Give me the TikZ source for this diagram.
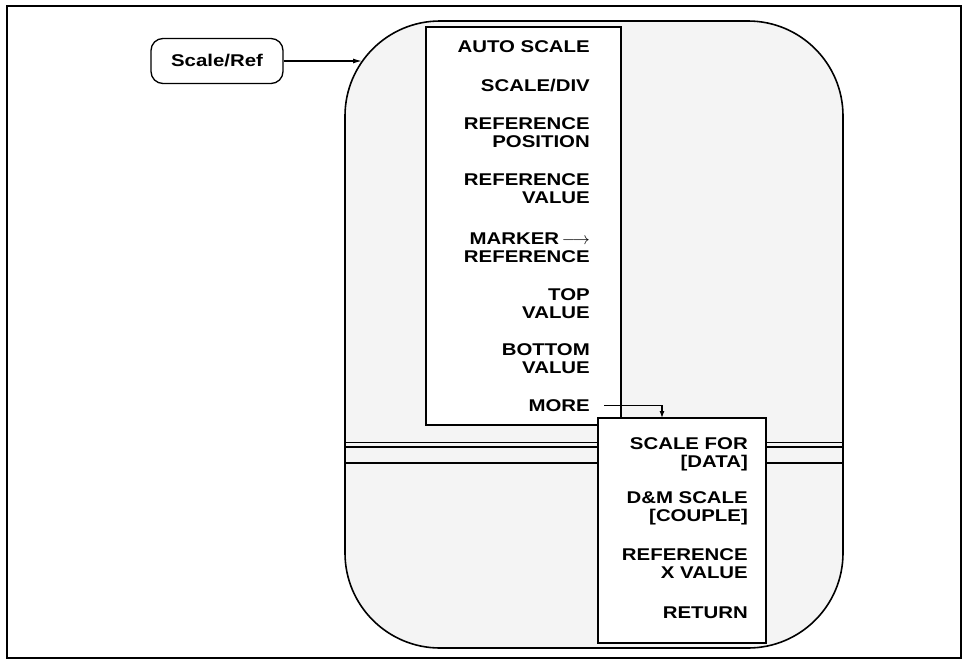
\documentclass[tikz,border=0pt]{standalone}
\usepackage{fontspec}
\newfontfamily\menufont[FakeStretch=1.2]{Liberation Sans}
\usetikzlibrary{arrows.meta, positioning}
\definecolor{stipple}{gray}{0.955}

\begin{document}
\begin{tikzpicture}[x=1pt, y=-1pt, every node/.style={font=\menufont\bfseries\fontsize{17}{18}\selectfont, inner sep=0pt},
  softkey/.style={anchor=north east, align=right}, menubox/.style={draw, line width=1.3pt, fill=white}]
  \useasboundingbox (0,0) rectangle (964,664);
  \draw[line width=2.8pt] (7,6) rectangle (961,658);
  \draw[line width=1.6pt, fill=stipple, rounded corners=95pt] (345,21) rectangle (843,648);
  \draw[line width=0.8pt] (345,442) -- (843,442);
  \draw[line width=1.4pt] (345,447) -- (843,447) (345,463) -- (843,463);
  \draw[menubox] (426,27) rectangle (621,425);
  \node[softkey] (auto) at (590,40) {AUTO SCALE};
  \node[softkey] (sdiv) at (590,79) {SCALE/DIV};
  \node[softkey] (rpos) at (590,117) {REFERENCE\\POSITION};
  \node[softkey] (rval) at (590,173) {REFERENCE\\VALUE};
  \node[softkey] (mref) at (590,233) {MARKER\,$\longrightarrow$\\REFERENCE};
  \node[softkey] (tval) at (590,288) {TOP\\VALUE};
  \node[softkey] (bval) at (590,343) {BOTTOM\\VALUE};
  \node[softkey] (more) at (590,399) {MORE};
  \draw[menubox] (598,418) rectangle (766,643);
  \node[softkey] (sfor) at (748,437) {SCALE FOR\\{[DATA]}};
  \node[softkey] (dms) at (748,491) {D\&M SCALE\\{[COUPLE]}};
  \node[softkey] (rx) at (748,548) {REFERENCE\\X VALUE};
  \node[softkey] (ret) at (748,607) {RETURN};
  \node[draw, line width=1.3pt, rounded corners=12pt, minimum width=132pt, minimum height=45pt] (sref) at (217,61) {Scale/Ref};
  \coordinate (edge) at (362,61);
  \coordinate (subtop) at (662,418);
  \draw[line width=1.2pt, -{Latex[length=9pt,width=5pt]}] (sref) -- (edge);
  \draw[line width=1.2pt, -{Latex[length=7pt,width=5pt]}] ([xshift=14pt]more.east) -| (subtop);
\end{tikzpicture}
\end{document}
